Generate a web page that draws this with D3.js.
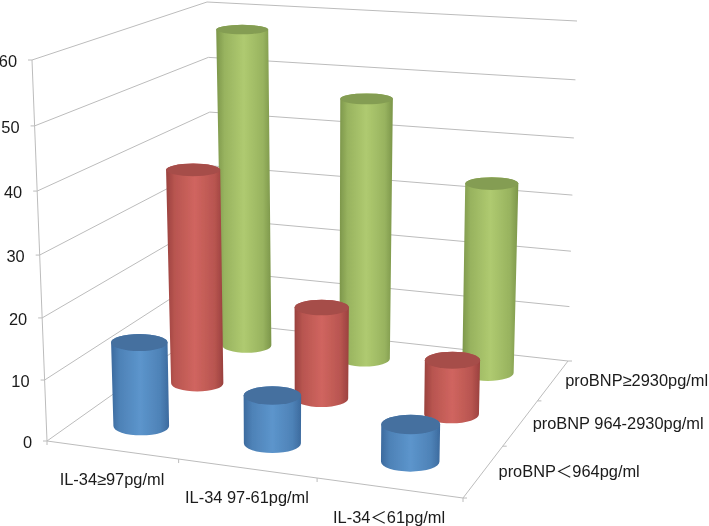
<!DOCTYPE html>
<html><head><meta charset="utf-8">
<style>html,body{margin:0;padding:0;background:#fff;overflow:hidden}svg{display:block}
text{font-family:"Liberation Sans","Noto Sans CJK SC",sans-serif;fill:#1a1a1a}</style>
<script src="https://cdn.jsdelivr.net/npm/d3@7"></script>
</head><body>
<script>
const categories = ["IL-34≥97pg/ml", "IL-34 97-61pg/ml", "IL-34＜61pg/ml"];
const seriesNames = ["proBNP＜964pg/ml", "proBNP 964-2930pg/ml", "proBNP≥2930pg/ml"];
const lowBNP = [13.9, 7.8, 5.9];
const midBNP = [37.1, 15.7, 9.2];
const highBNP = [57.2, 46.5, 33.5];
const valueTicks = [0, 10, 20, 30, 40, 50, 60];
const seriesValues = [lowBNP, midBNP, highBNP];

const W = 709, H = 526;
// Perspective frame of the chart box (u along categories, v along series)
const floorQuad = [[47, 441], [463, 498], [568, 361], [215, 322]];
const topQuad = [[32, 60], [469, 85], [577, 21], [207, 2]];
const wallFractions = [0, .160, .323, .488, .656, .827, 1];
const palettes = [
  {edge: "#3c6a9e", mid: "#5c95cc", cap: "#456f9f"},
  {edge: "#9a413e", mid: "#d0655f", cap: "#a64d4a"},
  {edge: "#7c964a", mid: "#afca70", cap: "#849d52"}
];
const seriesLabelDx = [15, 12, 12];
const barShiftU = -0.004;

function quadMap(q) {
  const [[x0, y0], [x1, y1], [x2, y2], [x3, y3]] = q;
  const dx1 = x1 - x2, dx2 = x3 - x2, sx = x0 - x1 + x2 - x3;
  const dy1 = y1 - y2, dy2 = y3 - y2, sy = y0 - y1 + y2 - y3;
  const den = dx1 * dy2 - dx2 * dy1;
  const g = (sx * dy2 - dx2 * sy) / den, h = (dx1 * sy - sx * dy1) / den;
  const a = x1 - x0 + g * x1, b = x3 - x0 + h * x3;
  const d = y1 - y0 + g * y1, e = y3 - y0 + h * y3;
  return (u, v) => {
    const k = g * u + h * v + 1;
    return [(a * u + b * v + x0) / k, (d * u + e * v + y0) / k];
  };
}
const floorMap = quadMap(floorQuad), topMap = quadMap(topQuad);
const uScale = d3.scaleBand().domain(d3.range(categories.length)).range([0, 1]);
const vScale = d3.scaleBand().domain(d3.range(seriesNames.length)).range([0, 1]);
const wScale = d3.scaleLinear().domain(valueTicks).range(wallFractions);
function project(u, v, value) {
  const f = wScale(value), a = floorMap(u, v), b = topMap(u, v);
  return [a[0] + (b[0] - a[0]) * f, a[1] + (b[1] - a[1]) * f];
}
const svg = d3.select("body").append("svg").attr("width", W).attr("height", H);
const defs = svg.append("defs");
defs.append("filter").attr("id", "soft").attr("x", "-5%").attr("y", "-5%").attr("width", "110%").attr("height", "110%")
  .append("feGaussianBlur").attr("stdDeviation", 0.4);
palettes.forEach((p, i) => {
  const g = defs.append("linearGradient").attr("id", "cyl" + i);
  const mix = d3.interpolateRgb(p.edge, p.mid)(.55);
  [[0, p.edge], [.15, mix], [.5, p.mid], [.85, mix], [1, p.edge]].forEach(([o, c]) =>
    g.append("stop").attr("offset", o).attr("stop-color", c));
});
const root = svg.append("g").attr("filter", "url(#soft)");
const line = d3.line();
const gridG = root.append("g").attr("fill", "none").attr("stroke", "#bcbcbc").attr("stroke-width", 1);
valueTicks.forEach(t => {
  gridG.append("path").attr("d", line([project(0, 0, t), project(0, 1, t), project(1, 1, t)]));
  const p = project(0, 0, t);
  gridG.append("path").attr("d", line([[p[0] - 4, p[1]], p]));
  root.append("text").attr("x", p[0] - 15).attr("y", p[1] + 7).attr("text-anchor", "end")
     .attr("font-size", 16.4).text(t);
});
gridG.append("path").attr("d", line([project(0, 0, 0), project(0, 0, 60)]));
gridG.append("path").attr("d", line([project(0, 0, 0), project(1, 0, 0), project(1, 1, 0)]));
d3.range(4).forEach(i => {
  const a = project(i / 3, 0, 0);
  gridG.append("path").attr("d", line([a, [a[0], a[1] + 4]]));
  const b = project(1, i / 3, 0);
  gridG.append("path").attr("d", line([b, [b[0] + 4, b[1]]]));
});
categories.forEach((c, i) => {
  const p = project(uScale(i) + uScale.bandwidth() / 2, 0, 0);
  root.append("text").attr("x", p[0]).attr("y", p[1] + 35).attr("text-anchor", "middle")
     .attr("font-size", 16.4).text(c);
});
seriesNames.forEach((s, j) => {
  const p = project(1, vScale(j) + vScale.bandwidth() / 2, 0);
  root.append("text").attr("x", p[0] + seriesLabelDx[j]).attr("y", p[1] + 6).attr("font-size", 16.4).text(s);
});
d3.range(seriesNames.length).reverse().forEach(j => {
  categories.forEach((c, i) => {
    const u = uScale(i) + uScale.bandwidth() / 2 + barShiftU, v = vScale(j) + vScale.bandwidth() / 2;
    const val = seriesValues[j][i];
    const b = project(u, v, 0), t = project(u, v, val);
    const rb = .04 * (b[1] + 270), rt = rb * (1 + .06 * wScale(val));
    const tilt = y => .17 + .00038 * y;
    const bry = rb * tilt(b[1]), rty = rt * tilt(t[1]);
    const g = root.append("g");
    g.append("path").attr("fill", `url(#cyl${j})`).attr("d",
      `M${t[0] - rt},${t[1]}L${b[0] - rb},${b[1]}A${rb},${bry} 0 0 0 ${b[0] + rb},${b[1]}L${t[0] + rt},${t[1]}A${rt},${rty} 0 0 0 ${t[0] - rt},${t[1]}Z`);
    g.append("ellipse").attr("cx", t[0]).attr("cy", t[1]).attr("rx", rt).attr("ry", rty)
      .attr("fill", palettes[j].cap);
  });
});
</script>
</body></html>
